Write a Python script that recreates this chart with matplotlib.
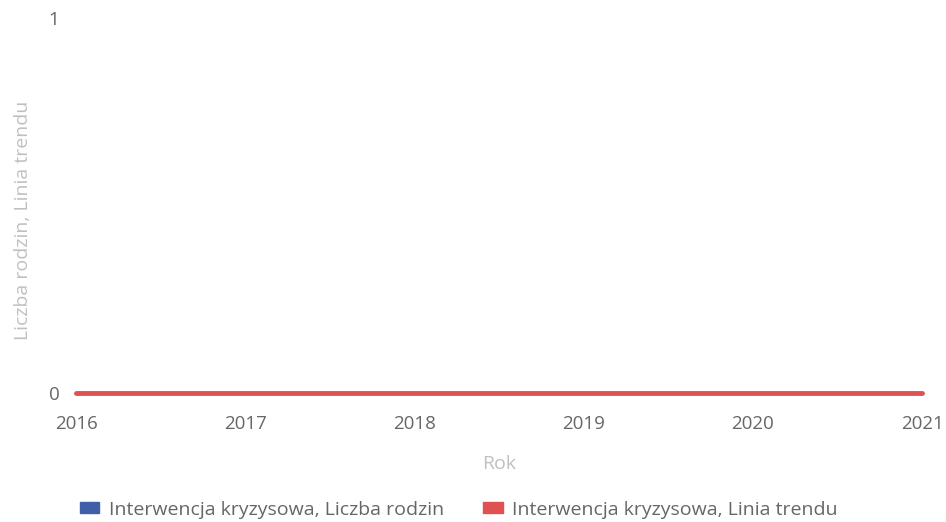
import matplotlib
matplotlib.use("Agg")
import matplotlib.pyplot as plt
from matplotlib.patches import Patch

plt.rcParams['font.family'] = ['Open Sans', 'DejaVu Sans']

years = [2016, 2017, 2018, 2019, 2020, 2021]
families = [0, 0, 0, 0, 0, 0]
trend = [0, 0, 0, 0, 0, 0]

series_names = ["Interwencja kryzysowa, Liczba rodzin", "Interwencja kryzysowa, Linia trendu"]
blue = "#3f5fa8"
red = "#e05252"

fig = plt.figure(figsize=(9.46, 5.22), dpi=100)
ax = fig.add_axes([76/946, 129/522, (922-76)/946, (393-18)/522])

ax.plot(years, families, color=blue, linewidth=2, clip_on=False)
ax.plot(years, trend, color=red, linewidth=3.5, solid_capstyle='round', clip_on=False)

ax.set_xlim(2016, 2021)
ax.set_ylim(0, 1)
ax.set_yticks([0, 1])
ax.set_xticks(years)
for s in ax.spines.values():
    s.set_visible(False)
ax.tick_params(length=0, colors="#666666", labelsize=13.5)
ax.tick_params(axis='y', pad=12)
ax.tick_params(axis='x', pad=16)

ax.set_xlabel("Rok", color="#c0c0c0", fontsize=14, labelpad=16)
ax.set_ylabel("Liczba rodzin, Linia trendu", color="#c0c0c0", fontsize=14)
ax.yaxis.set_label_coords(-0.052, 0.46)

handles = [Patch(color=blue), Patch(color=red)]
fig.legend(handles, series_names, loc="lower center", bbox_to_anchor=(0.485, -0.027),
           ncol=2, frameon=False, fontsize=14, handlelength=1.0, handleheight=0.5,
           columnspacing=2.0, labelcolor="#666666", handletextpad=0.5)

fig.savefig("out.png", dpi=100)
